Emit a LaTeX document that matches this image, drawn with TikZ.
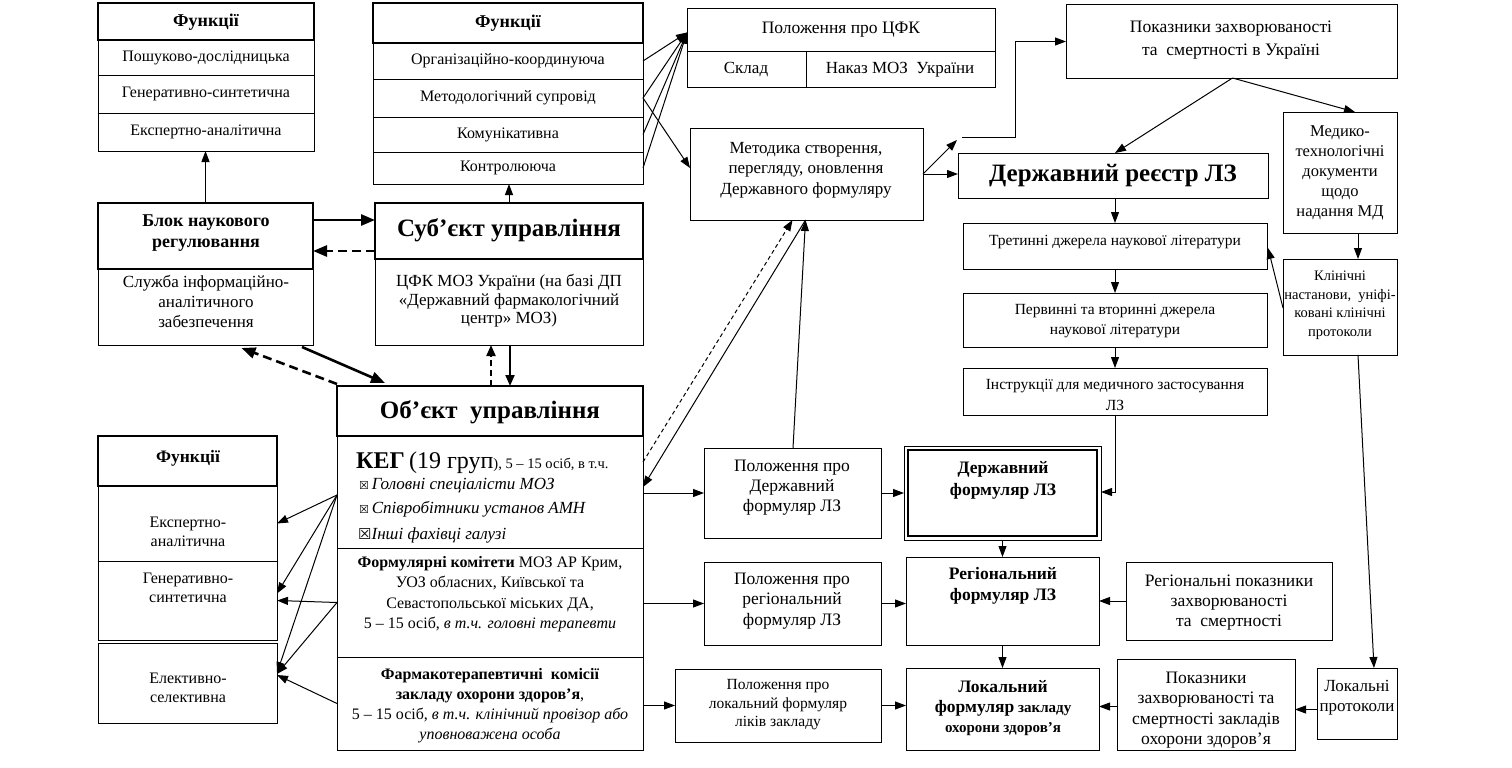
\documentclass[tikz,border=0pt]{standalone}
\usepackage{fontspec}
\setmainfont{Liberation Serif}
\newfontfamily\symf{DejaVu Sans}
\usetikzlibrary{arrows.meta,fit,calc}
\newcommand{\fs}[2]{\fontsize{#1}{#2}\selectfont}
\newcommand{\mybox}[6][]{\node[bx,#1,fit={(#3,#4) (#5,#6)}] (#2) {};}
\newcommand{\mytext}[5][]{\node[tx,#1] (#2) at (#3,#4) {#5};}
\begin{document}
\begin{tikzpicture}[x=1pt,y=-1pt,
 bx/.style={draw,line width=1pt,inner sep=0pt,outer sep=0pt},
 hd/.style={bx,line width=2.2pt},
 tx/.style={align=center,inner sep=0pt,font=\fs{17}{20}},
 arr/.style={-{Triangle[length=11pt,width=8pt]},line width=1pt},
 tarr/.style={-{Triangle[length=14pt,width=11pt]},line width=2.6pt},
 tdash/.style={tarr,dash pattern=on 9pt off 5pt},
 mdash/.style={-{Triangle[length=11pt,width=9pt]},line width=2pt,dash pattern=on 6pt off 4pt},
 mline/.style={-{Triangle[length=11pt,width=9pt]},line width=2pt},
 fdash/.style={arr,dash pattern=on 4pt off 3pt},
 ln/.style={line width=1pt}]
\fill[white] (0,0) rectangle (1512,768);
\useasboundingbox (0,0) rectangle (1512,768);

% ---------- Functions 1
\mybox{fa1}{98}{40}{314}{75}
\mybox{fa2}{98}{75}{314}{113}
\mybox{fa3}{98}{113}{314}{151}
\mybox[hd]{fah}{98}{3}{314}{40}
\mytext[font=\bfseries\fs{18}{20}]{fahT}{206}{22}{Функції}
\mytext[font=\fs{16}{19}]{fa1T}{206}{58}{Пошуково-дослідницька}
\mytext[font=\fs{16}{19}]{fa2T}{206}{94}{Генеративно-синтетична}
\mytext[font=\fs{16}{19}]{fa3T}{206}{132}{Експертно-аналітична}

% ---------- Functions 2
\mybox{fb1}{373}{43}{643}{79}
\mybox{fb2}{373}{79}{643}{117}
\mybox{fb3}{373}{117}{643}{152}
\mybox{fb4}{373}{152}{643}{184}
\mybox[hd]{fbh}{373}{3}{643}{43}
\mytext[font=\bfseries\fs{18}{20}]{fbhT}{508}{23}{Функції}
\mytext[font=\fs{16}{19}]{fb1T}{508}{61}{Організаційно-координуюча}
\mytext[font=\fs{16}{19}]{fb2T}{508}{98}{Методологічний супровід}
\mytext[font=\fs{16}{19}]{fb3T}{508}{135}{Комунікативна}
\mytext[font=\fs{16}{19}]{fb4T}{508}{168}{Контролююча}

% ---------- Blok
\mybox{blL}{98}{269}{313}{345}
\mybox[hd]{blU}{98}{203}{313}{269}
\mytext[font=\bfseries\fs{18}{21}]{blUT}{206}{233}{Блок наукового\\регулювання}
\mytext[font=\fs{17}{20}]{blLT}{206}{301}{Служба інформаційно-\\аналітичного\\забезпечення}

% ---------- Subject
\mybox{suL}{375}{259}{643}{345}
\mybox[hd]{suU}{375}{203}{643}{259}
\mytext[font=\bfseries\fs{25}{28}]{suUT}{509}{230}{Суб’єкт управління}
\mytext[font=\fs{17}{18.5}]{suLT}{509}{301}{ЦФК МОЗ України (на базі ДП\\«Державний фармакологічний\\центр» МОЗ)}

% ---------- Object
\mybox{obK}{337}{436}{643}{548}
\mybox{obF}{337}{548}{643}{657}
\mybox{obP}{337}{657}{643}{750}
\mybox[hd]{obH}{337}{386}{643}{436}
\mytext[font=\bfseries\fs{25}{28}]{obHT}{490}{412}{Об’єкт\ \ управління}
\mytext[anchor=west]{k1}{356}{463}{{\bfseries\fs{24}{26}КЕГ} {\fs{24}{26}(19 груп}{\fs{14.5}{17}), 5 – 15 осіб, в т.ч.}}
\mytext[anchor=west,font=\fs{17}{20}]{k2}{359}{486}{{\symf\fs{11}{13}☒}\,\textit{Головні спеціалісти МОЗ}}
\mytext[anchor=west,font=\fs{17}{20}]{k3}{359}{509}{{\symf\fs{11}{13}☒}\,\textit{Співробітники установ АМН}}
\mytext[anchor=west,font=\fs{17}{20}]{k4}{358}{535}{{\symf\fs{15}{17}☒}\textit{Інші фахівці галузі}}
\mytext[font=\fs{16}{20.5}]{obFT}{490}{594}{\textbf{Формулярні комітети} МОЗ АР Крим,\\УОЗ обласних, Київської та\\Севастопольської міських ДА,\\5 – 15 осіб, \textit{в т.ч. головні терапевти}}
\mytext[font=\fs{16}{20}]{obPT}{490}{706}{\textbf{Фармакотерапевтичні\ \ комісії}\\\textbf{закладу охорони здоров’я},\\5 – 15 осіб, \textit{в т.ч. клінічний провізор або}\\\textit{уповноважена особа}}

% ---------- Functions 3
\mybox{fc1}{98}{486}{277}{561}
\mybox{fc2}{98}{561}{277}{640}
\mybox{fc3}{98}{643}{277}{723}
\mybox[hd]{fch}{98}{436}{277}{486}
\mytext[font=\bfseries\fs{17.5}{20}]{fchT}{188}{458}{Функції}
\mytext[font=\fs{16}{19}]{fc1T}{188}{532}{Експертно-\\аналітична}
\mytext[font=\fs{16}{19}]{fc2T}{188}{588}{Генеративно-\\синтетична}
\mytext[font=\fs{16}{19}]{fc3T}{188}{688}{Елективно-\\селективна}

% ---------- Polozhennia CFK
\mybox{pcT}{687}{9}{995}{52}
\mybox{pcA}{687}{52}{806}{87}
\mybox{pcB}{806}{52}{995}{87}
\mytext[font=\fs{17.5}{20}]{pcTT}{841}{30}{Положення про ЦФК}
\mytext[font=\fs{17}{20}]{pcAT}{746}{70}{Склад}
\mytext[font=\fs{17}{20}]{pcBT}{900}{70}{Наказ МОЗ\ \ України}

% ---------- Top right
\mybox{pu}{1066}{5}{1397}{78}
\mytext[font=\fs{17.5}{23}]{puT}{1231}{40}{Показники захворюваності\\та\ \ смертності в Україні}
\mybox{met}{690}{128}{923}{220}
\mytext[font=\fs{17}{20.5}]{metT}{806}{170}{Методика створення,\\перегляду, оновлення\\Державного формуляру}
\mybox{dr}{958}{153}{1268}{198}
\mytext[font=\bfseries\fs{25}{28}]{drT}{1113}{176}{Державний реєстр ЛЗ}
\mybox{med}{1283}{112}{1397}{233}
\mytext[font=\fs{16.5}{20}]{medT}{1340}{173}{Медико-\\технологічні\\документи\\щодо\\надання МД}
\mybox{tr}{963}{223}{1267}{269}
\mytext[font=\fs{15.5}{19}]{trT}{1115}{242}{Третинні джерела наукової літератури}
\mybox{pv}{963}{293}{1267}{347}
\mytext[font=\fs{15.5}{20}]{pvT}{1115}{321}{Первинні та вторинні джерела\\наукової літератури}
\mybox{ins}{963}{368}{1267}{415}
\mytext[font=\fs{15.5}{21}]{insT}{1115}{395}{Інструкції для медичного застосування\\ЛЗ}
\mybox{kl}{1283}{259}{1397}{355}
\mytext[font=\fs{14.5}{18.5}]{klT}{1340}{305}{Клінічні\\настанови,\ \ уніфі-\\ковані клінічні\\протоколи}

% ---------- Formularies
\mybox{pdf}{704}{448}{881}{538}
\mytext[font=\fs{17.5}{20}]{pdfT}{792}{488}{Положення про\\Державний\\формуляр ЛЗ}
\mybox{dfo}{904}{446}{1101}{540}
\mybox[line width=2pt]{dfi}{908}{450}{1097}{536}
\mytext[font=\bfseries\fs{17.5}{22}]{dfT}{1003}{480}{Державний\\формуляр ЛЗ}
\mybox{rf}{906}{557}{1099}{645}
\mytext[font=\bfseries\fs{17.5}{21}]{rfT}{1003}{586}{Регіональний\\формуляр ЛЗ}
\mybox{prf}{704}{562}{881}{645}
\mytext[font=\fs{17.5}{20.5}]{prfT}{792}{601}{Положення про\\регіональний\\формуляр ЛЗ}
\mybox{rp}{1126}{562}{1332}{640}
\mytext[font=\fs{17.5}{20}]{rpT}{1229}{603}{Регіональні показники\\захворюваності\\та\ \ смертності}
\mybox{lf}{906}{668}{1099}{750}
\mytext[font=\bfseries\fs{15}{20}]{lfT}{1003}{708}{{\fs{17.5}{20}Локальний}\\{\fs{17.5}{20}формуляр} закладу\\охорони здоров’я}
\mybox{plf}{675}{669}{881}{742}
\mytext[font=\fs{15.5}{18.5}]{plfT}{778}{705}{Положення про\\локальний формуляр\\ліків закладу}
\mybox{pz}{1117}{659}{1295}{750}
\begin{scope}
\clip (pz.north west) rectangle (pz.south east);
\mytext[font=\fs{17.5}{20.5}]{pzT}{1206}{710}{Показники\\захворюваності та\\смертності закладів\\охорони здоров’я}
\end{scope}
\mybox{lp}{1317}{668}{1397}{739}
\mytext[font=\fs{17}{20}]{lpT}{1357}{698}{Локальні\\протоколи}

% ---------- Connectors
\draw[arr] (blU.north) -- (blU.north |- fa3.south);
\draw[arr] (suU.north) -- (suU.north |- fb4.south);
\draw[tarr] ($(blU.north east)+(0,17)$) -- ($(suU.north west)+(0,17)$);
\draw[tdash] ($(suU.north west)+(0,48)$) -- ($(blU.north east)+(0,48)$);
\draw[tarr] ($(blL.south east)+(-11,2)$) -- ($(obH.north west)+(48,-3)$);
\draw[tdash] ($(obH.north west)+(0,-2)$) -- ($(blL.south)+(36,3)$);
\coordinate (sA) at ($(suL.south)+(-18,0)$);
\coordinate (sB) at ($(suL.south)+(1,0)$);
\draw[mdash] (sA |- obH.north) -- (sA);
\draw[mline] (sB) -- (sB |- obH.north);

\coordinate (cfkIn) at ($(pcT.west)+(0,2)$);
\foreach \r in {fb1,fb2,fb3,fb4} \draw[arr] (\r.east) -- (cfkIn);
\draw[arr] (fb2.east) -- ($(met.west)+(0,-6)$);

\draw[arr] (met.east) -- (met.east -| dr.west);
\coordinate (c1) at (957,140);
\coordinate (c2) at (962,137);
\coordinate (c3) at (1015,137);
\draw[arr] (met.east) -- (c1);
\draw[arr] (c2) -- (c3) |- (pu.west);

\coordinate (puB) at ($(pu.south)+(1,0)$);
\draw[arr] (puB) -- ($(dr.north)+(2,0)$);
\draw[arr] (puB) -- ($(med.north)+(15,0)$);
\draw[arr] ($(dr.south)+(2,0)$) -- (tr.north);
\draw[arr] (tr.south) -- (pv.north);
\draw[arr] (pv.south) -- (ins.south |- ins.north);
\draw[arr] (ins.south) |- ($(dfo.east)+(0,-1)$);
\draw[arr] ($(med.south)+(18,0)$) -- ($(kl.north)+(18,0)$);
\draw[arr] ($(kl.west)+(0,1)$) -- ($(tr.east)+(1,2)$);
\draw[arr] ($(kl.south)+(18,0)$) -- ($(lp.north)+(17,0)$);

\coordinate (mB) at ($(met.south)+(-1,0)$);
\draw[arr] (mB) -- ($(obK.north east)+(0,51)$);
\draw[fdash] ($(obK.north east)+(0,26)$) -- ($(met.south)+(-14,0)$);
\draw[arr] ($(pdf.north)+(0.5,0)$) -- (mB);

\draw[arr] (obK.east |- pdf.west) -- (pdf.west);
\draw[arr] (pdf.east) -- (pdf.east -| dfo.west);
\draw[arr] (dfo.south) -- (dfo.south |- rf.north);
\draw[arr] (obF.east |- prf.west) -- (prf.west);
\draw[arr] (prf.east) -- (prf.east -| rf.west);
\draw[arr] (rp.west) -- (rp.west -| rf.east);
\draw[arr] (rf.south) -- (lf.north);
\draw[arr] (obP.east |- plf.west) -- (plf.west);
\draw[arr] (plf.east) -- (plf.east -| lf.west);
\coordinate (pzW) at ($(pz.west)+(0,2)$);
\draw[arr] (pzW) -- (pzW -| lf.east);
\coordinate (lpW) at ($(lp.west)+(0,6)$);
\draw[arr] (lpW) -- (lpW -| pz.east);

\coordinate (kL) at ($(obK.west)+(0,3)$);
\draw[arr] (kL) -- (fc1.east);
\draw[arr] (kL) -- ($(fc2.east)+(0,-7)$);
\draw[arr] (kL) -- ($(fc3.east)+(0,-10)$);
\coordinate (fL) at (obF.west);
\draw[arr] (fL) -- (fc2.east);
\draw[arr] (fL) -- ($(fc3.east)+(0,-9)$);
\coordinate (pL) at (obP.west);
\draw[arr] (pL) -- ($(fc3.east)+(0,-8)$);
\end{tikzpicture}
\end{document}
